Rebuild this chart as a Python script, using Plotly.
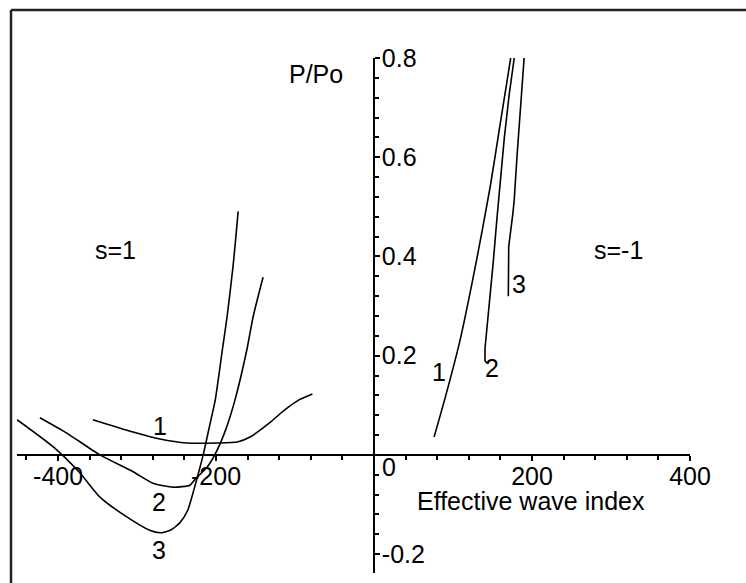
import plotly.graph_objects as go

# ---- data ----
# s = 1 branch (negative effective wave index)
s1_c1_x = [-356, -305, -271, -237, -199, -173, -157, -132, -119, -108, -95, -78]
s1_c1_y = [0.071, 0.046, 0.032, 0.024, 0.024, 0.026, 0.036, 0.065, 0.083, 0.097, 0.111, 0.123]

s1_c2_x = [-423, -389, -347, -305, -280, -254, -233, -227, -211, -201, -188, -176, -161, -153, -140.5]
s1_c2_y = [0.075, 0.044, 0.0, -0.034, -0.057, -0.065, -0.061, -0.05, -0.024, 0.002, 0.05, 0.111, 0.212, 0.279, 0.358]

s1_c3_x = [-452, -406, -372, -347, -313, -284, -271, -258, -246, -236, -228, -222, -216, -208, -201, -192, -186, -178.5, -172]
s1_c3_y = [0.071, 0.016, -0.037, -0.085, -0.125, -0.152, -0.157, -0.152, -0.137, -0.112, -0.07, -0.035, 0.002, 0.06, 0.111, 0.212, 0.279, 0.380, 0.491]

# s = -1 branch (positive effective wave index)
s2_c1_x = [76, 90, 109, 130, 147, 159, 168, 173]
s2_c1_y = [0.036, 0.115, 0.232, 0.394, 0.540, 0.660, 0.750, 0.800]

s2_c2_x = [143, 140.5, 140.5, 143, 146.5, 151, 155.5, 160, 165, 171, 177.5]
s2_c2_y = [0.185, 0.19, 0.215, 0.255, 0.31, 0.39, 0.475, 0.555, 0.64, 0.725, 0.800]

s2_c3_x = [170, 170.5, 176, 177.5, 181, 187, 190]
s2_c3_y = [0.32, 0.42, 0.49, 0.515, 0.602, 0.723, 0.800]

x_ticks = [-400, -200, 200, 400]
x_tick_labels = ["-400", "-200", "200", "400"]
y_ticks = [-0.2, 0.2, 0.4, 0.6, 0.8]
y_tick_labels = ["-0.2", "0.2", "0.4", "0.6", "0.8"]

x_range = [-452, 400]
y_range = [-0.238, 0.8]

# curve labels: (x, y, text)
curve_labels = [
    (-271, 0.0586, "1"), (-272, -0.095, "2"), (-272, -0.192, "3"),
    (82, 0.168, "1"), (149, 0.176, "2"), (184, 0.345, "3"),
    (-327, 0.414, "s=1"), (309, 0.414, "s=-1"),
    (199, -0.093, "Effective wave index"), (-73, 0.768, "P/Po"),
    (19, -0.024, "0"),
]

FONT = "Liberation Sans, Arial, sans-serif"
FS = 25
TFS = 25

fig = go.Figure()
series = [
    (s1_c1_x, s1_c1_y, "spline"), (s1_c2_x, s1_c2_y, "spline"), (s1_c3_x, s1_c3_y, "spline"),
    (s2_c1_x, s2_c1_y, "spline"), (s2_c2_x, s2_c2_y, "linear"), (s2_c3_x, s2_c3_y, "linear"),
]
for xs, ys, shape in series:
    fig.add_trace(go.Scatter(x=xs, y=ys, mode="lines",
                             line=dict(color="black", width=1.6, shape=shape, smoothing=0.6),
                             showlegend=False, hoverinfo="skip", cliponaxis=False))

for x, y, t in curve_labels:
    fig.add_annotation(x=x, y=y, text=t, showarrow=False,
                       font=dict(family=FONT, size=FS, color="black"),
                       xanchor="center", yanchor="middle")

W, H = 746, 583
ml, mr, mt, mb = 17, 56, 58, 10
pw, ph = W - ml - mr, H - mt - mb

xpos = (0 - x_range[0]) / (x_range[1] - x_range[0])
ypos = (0 - y_range[0]) / (y_range[1] - y_range[0])

fig.update_layout(
    width=W, height=H,
    margin=dict(l=ml, r=mr, t=mt, b=mb, pad=0),
    paper_bgcolor="white", plot_bgcolor="white",
    xaxis=dict(range=x_range, anchor="free", position=ypos, side="bottom",
               showgrid=False, zeroline=False, showline=True, linecolor="black", linewidth=1.6,
               tickmode="array", tickvals=x_ticks, ticktext=x_tick_labels,
               ticks="outside", ticklen=5, tickwidth=1.5, tickcolor="black",
               ticklabelstandoff=-6,
               minor=dict(tickmode="linear", tick0=0, dtick=40, ticks="outside", ticklen=4,
                          tickwidth=1.5, tickcolor="black", showgrid=False),
               tickfont=dict(family=FONT, size=TFS, color="black"), fixedrange=True),
    yaxis=dict(range=y_range, anchor="free", position=xpos, side="right",
               showgrid=False, zeroline=False, showline=True, linecolor="black", linewidth=1.6,
               tickmode="array", tickvals=y_ticks, ticktext=y_tick_labels,
               ticks="outside", ticklen=5, tickwidth=1.5, tickcolor="black",
               ticklabelstandoff=-3,
               minor=dict(tickmode="linear", tick0=0, dtick=0.04, ticks="outside", ticklen=4,
                          tickwidth=1.5, tickcolor="black", showgrid=False),
               tickfont=dict(family=FONT, size=TFS, color="black"), fixedrange=True),
)

# figure frame (top and left edges visible in the reference)
bx = (11 - ml) / pw
by = 1 + (mt - 10) / ph
fig.add_shape(type="line", xref="paper", yref="paper", x0=bx, x1=(W - ml + 5) / pw, y0=by, y1=by,
              line=dict(color="#222", width=2.5))
fig.add_shape(type="line", xref="paper", yref="paper", x0=bx, x1=bx, y0=by, y1=-(mb + 5) / ph,
              line=dict(color="#222", width=2.5))

fig.write_html("out.html", config={"displayModeBar": False},
               post_script="document.body.style.margin='0px';document.body.style.overflow='hidden';")
